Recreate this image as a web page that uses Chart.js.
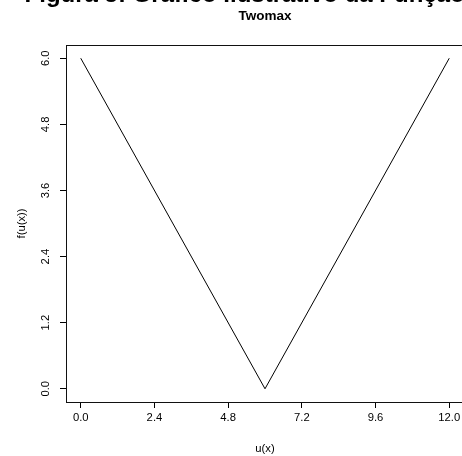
<!DOCTYPE html>
<html>
<head>
<meta charset="utf-8">
<script src="https://cdn.jsdelivr.net/npm/chart.js@4/dist/chart.umd.min.js"></script>
<style>
    html, body { margin: 0; padding: 0; background: #fff; overflow: hidden; }
    #wrap { position: relative; width: 462px; height: 456px; overflow: hidden; }
    #twomaxChart { position: absolute; left: 0; top: 0; }
</style>
</head>
<body>
<div id="wrap">
    <canvas id="twomaxChart" width="480" height="456"></canvas>
</div>
<script>
/*
  Twomax - f(u(x)) vs u(x)
*/

const xValues = [0, 6, 12]
const yValues = [6, 0, 6]

const xTicks = [0, 2.4, 4.8, 7.2, 9.6, 12]
const yTicks = [0, 1.2, 2.4, 3.6, 4.8, 6]

const plotTitle = "Twomax"
const xTitle = "u(x)"
const yTitle = "f(u(x))"
const pageHeading = "Figura 5: Gráfico Ilustrativo da Função Twomax"

const FONT = "'Liberation Sans', Arial, Helvetica, sans-serif"

const points = xValues.map((x, i) => ({ x: x, y: yValues[i] }))

// draws the R-style box, the rotated y labels and the titles
const rDecorations = {

    id: "rDecorations",

    afterDraw(chart) {

        const ctx = chart.ctx
        const area = chart.chartArea
        const yScale = chart.scales.y

        ctx.save()

        // box around the plot region
        ctx.strokeStyle = "#111"
        ctx.lineWidth = 1
        ctx.strokeRect(
            Math.round(area.left) + 0.5,
            Math.round(area.top) + 0.5,
            Math.round(area.right - area.left),
            Math.round(area.bottom - area.top)
        )

        // y tick labels, written vertically like R's default las=0
        ctx.fillStyle = "#000"
        ctx.font = "11.25px " + FONT
        ctx.textAlign = "center"
        ctx.textBaseline = "middle"

        yTicks.forEach(v => {

            const py = yScale.getPixelForValue(v)

            ctx.save()
            ctx.translate(46, py)
            ctx.rotate(-Math.PI / 2)
            ctx.fillText(v.toFixed(1), 0, 0)
            ctx.restore()

        })

        // main title
        ctx.font = "bold 13.5px " + FONT
        ctx.textBaseline = "middle"
        ctx.fillText(plotTitle, (area.left + area.right) / 2, 16)

        // heading of the page, cut off at the top
        ctx.font = "bold 24px " + FONT
        ctx.textAlign = "left"
        ctx.textBaseline = "alphabetic"
        const cedilla = pageHeading.indexOf("ç")
        const before = ctx.measureText(pageHeading.slice(0, cedilla)).width
        const cw = ctx.measureText("ç").width
        ctx.fillText(pageHeading, 430 - before - cw / 2, 1.5)

        ctx.restore()

    }

}

const canvas = document.getElementById("twomaxChart")

new Chart(canvas, {

    type: "line",

    data: {

        datasets: [

            {
                label: "Twomax",
                data: points,
                borderColor: "#000",
                borderWidth: 1,
                pointRadius: 0,
                tension: 0,
                fill: false
            }

        ]

    },

    options: {

        responsive: false,
        animation: false,
        devicePixelRatio: 1,

        layout: {
            padding: { top: 45, right: 16, left: 0, bottom: 0 }
        },

        plugins: {
            legend: { display: false },
            tooltip: { enabled: false }
        },

        scales: {

            x: {
                type: "linear",
                min: -0.48,
                max: 12.48,
                afterBuildTicks: scale => {
                    scale.ticks = xTicks.map(v => ({ value: v }))
                },
                afterFit: scale => {
                    scale.height = 54
                },
                border: { display: false },
                grid: {
                    drawOnChartArea: false,
                    drawTicks: true,
                    tickLength: 6,
                    color: "#000",
                    lineWidth: 1
                },
                ticks: {
                    autoSkip: false,
                    maxRotation: 0,
                    padding: 3,
                    color: "#000",
                    font: { family: FONT, size: 11.25 },
                    callback: v => Number(v).toFixed(1)
                },
                title: {
                    display: true,
                    text: xTitle,
                    color: "#000",
                    font: { family: FONT, size: 11.25 },
                    padding: { top: 0, bottom: 0 }
                }
            },

            y: {
                type: "linear",
                min: -0.24,
                max: 6.24,
                afterBuildTicks: scale => {
                    scale.ticks = yTicks.map(v => ({ value: v }))
                },
                afterFit: scale => {
                    scale.width = 66
                },
                border: { display: false },
                grid: {
                    drawOnChartArea: false,
                    drawTicks: true,
                    tickLength: 6,
                    color: "#000",
                    lineWidth: 1
                },
                ticks: {
                    display: false
                },
                title: {
                    display: true,
                    text: yTitle,
                    color: "#000",
                    font: { family: FONT, size: 11.25 },
                    padding: { top: 15, bottom: 0 }
                }
            }

        }

    },

    plugins: [rDecorations]

})
</script>
</body>
</html>
